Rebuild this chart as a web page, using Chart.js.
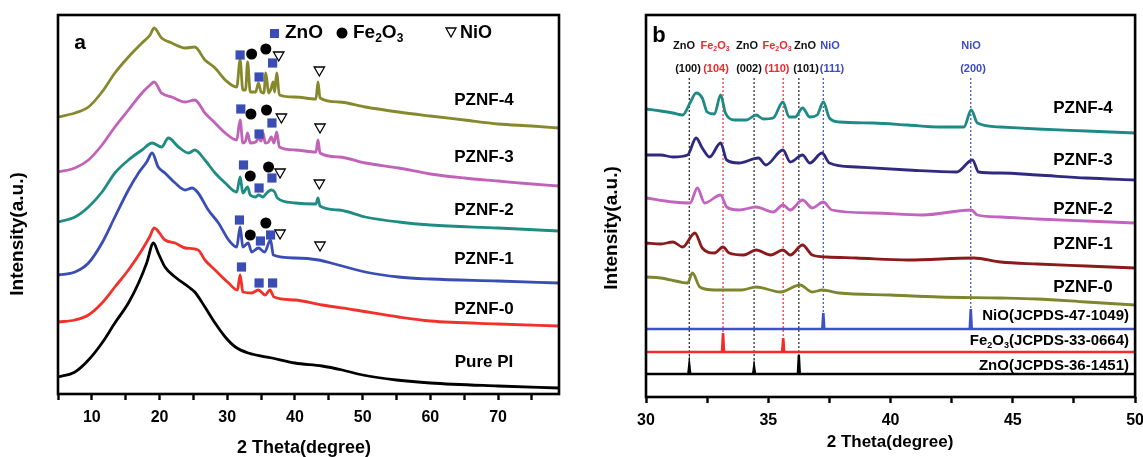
<!DOCTYPE html>
<html>
<head>
<meta charset="utf-8">
<script src="https://cdn.jsdelivr.net/npm/chart.js@4.4.0/dist/chart.umd.min.js"></script>
<style>
  html, body { margin: 0; padding: 0; background: #fff; overflow: hidden; }
  #wrap { position: relative; width: 1143px; height: 457px; overflow: hidden; }
  #boxA { position: absolute; left: 0; top: 0; width: 580px; height: 457px; }
  #boxB { position: absolute; left: 580px; top: 0; width: 572px; height: 457px; }
</style>
</head>
<body>
<div id="wrap">
  <div id="boxA"><canvas id="chartA"></canvas></div>
  <div id="boxB"><canvas id="chartB"></canvas></div>
</div>
<script>
const FONT = '"Liberation Sans", Arial, Helvetica, sans-serif';

// ---------- panel a : [2 theta, intensity (a.u.)] ----------
const pznf4A = [[5,277],[7.5,281],[9.5,287],[11.5,302],[13.4,321],[15.4,337],[17.4,351],[18.6,359],[19.2,366],[20.3,356],[21.8,351],[23.8,346],[25.2,347],[26.7,334],[28.2,326],[29.7,314],[31.4,307],[31.9,334],[32.3,304],[32.7,304],[33.0,332],[33.4,302],[34.2,302],[34.6,311],[35.0,302],[35.4,301],[35.7,321],[36.1,301],[36.4,304],[36.8,312],[37.0,302],[37.3,321],[37.7,299],[40,297],[43.1,295],[43.4,312],[43.7,296],[46.5,292],[50.4,287],[55.3,282],[60,278],[65,274],[70,270],[75,268],[79,266]];
const pznf3A = [[5,222],[7.5,226],[9.5,234],[11.5,249],[13.4,267],[15.4,284],[17.4,301],[18.6,309],[19.2,312],[20.3,301],[21.8,297],[23.8,292],[25.2,294],[26.7,281],[28.2,271],[29.7,261],[31.4,254],[31.9,274],[32.3,251],[32.7,253],[33.0,261],[33.4,251],[34.2,252],[34.6,256],[35.0,253],[35.3,261],[35.6,251],[36.1,252],[36.5,257],[36.9,251],[37.3,262],[37.7,247],[40,244],[43.1,242],[43.4,254],[43.7,241],[46.5,237],[50.4,231],[55.3,226],[60,220],[65,216],[70,213],[75,210],[79,208]];
const pznf2A = [[5,172],[7.5,177],[9.5,187],[11.5,202],[13.4,221],[15.4,234],[17.4,244],[18.9,251],[20.3,247],[21.3,256],[22.8,247],[24.3,241],[25.2,244],[26.7,234],[28.2,221],[29.7,211],[31.4,202],[31.9,217],[32.3,201],[33.0,207],[33.4,199],[34.2,197],[34.6,199],[35.3,197],[35.7,200],[36.5,204],[37.0,202],[37.4,196],[40,191],[43.1,190],[43.4,196],[43.7,188],[46.5,184],[50.4,177],[55.3,172],[60,169],[70,166],[79,163]];
const pznf1A = [[5,119],[7.5,122],[9.5,131],[11.5,151],[13.4,177],[15.4,204],[16.9,221],[18.1,232],[18.9,241],[19.8,227],[20.8,221],[22.3,211],[23.8,204],[24.8,206],[25.7,201],[27.2,184],[28.7,171],[30.2,154],[31.4,147],[31.9,167],[32.3,147],[33.1,151],[33.6,142],[34.6,146],[35.5,142],[36.4,154],[36.8,139],[40,136],[43.5,134],[46.4,129],[50.4,122],[55.3,117],[60,115],[70,113],[79,111]];
const pznf0A = [[5,72],[7.5,74],[9.5,79],[11.5,91],[13.4,107],[15.4,124],[17.4,144],[18.6,158],[19.2,166],[20.8,154],[22.3,151],[23.8,146],[25.7,144],[26.7,134],[28.2,124],[30.2,111],[31.5,104],[31.9,119],[32.3,102],[33.6,101],[34.6,104],[35.6,99],[36.3,104],[36.9,97],[40,94],[44,89],[48.9,84],[55.3,77],[60,73],[70,70],[79,68]];
const purePI = [[5,17],[7.5,22],[9.5,34],[11.5,51],[13.4,71],[15.4,91],[16.9,111],[18.1,131],[19.1,151],[19.8,141],[20.8,127],[22.3,117],[24.3,107],[25.2,102],[26.7,87],[28.2,71],[29.7,57],[31.2,47],[33.1,41],[36.6,36],[40,31],[44,28],[47,24],[50,19],[55,14],[60,11],[70,8],[79,6]];

// phase markers in panel a
const znoMarks = [[31.9,339],[36.7,331],[34.7,317],[32.0,285],[36.6,271],[34.7,260],[32.4,229],[36.6,216],[34.7,206],[31.8,174],[36.4,159],[34.9,153],[32.1,127],[34.7,111],[36.7,111]];
const feMarks = [[33.6,340],[35.7,345],[33.5,280],[35.8,284],[33.4,218],[36.1,227],[33.4,159],[35.7,171]];
const nioMarks = [[37.6,339],[43.6,324],[38.0,277],[43.7,267],[37.8,222],[43.6,211],[37.8,161],[43.7,149]];

const ticksA = [5,10,15,20,25,30,35,40,45,50,55,60,65,70,75];

// ---------- panel b ----------
const pznf4B = [[30,288],[30.6,286],[31.1,284],[31.5,282],[31.8,294],[32.05,304],[32.3,299],[32.5,285],[32.8,283],[33.05,302],[33.25,284],[33.6,277],[34.1,277],[34.5,282],[34.8,278],[35.2,279],[35.6,295],[35.85,280],[36.1,280],[36.4,289],[36.7,280],[37.0,282],[37.25,295],[37.5,279],[37.9,275],[39.3,274],[40.7,272],[42.0,270],[43.0,270],[43.3,287],[43.55,274],[44.5,270],[46,268],[48,266],[50,264]];
const pznf3B = [[30,242],[30.6,242],[31.1,240],[31.7,242],[32.05,259],[32.3,249],[32.6,240],[33.05,254],[33.3,237],[33.8,234],[34.6,239],[34.9,232],[35.6,247],[35.9,235],[36.4,242],[36.7,234],[37.2,244],[37.5,234],[38.6,230],[40.7,227],[42.7,225],[43.35,237],[43.6,225],[44.5,224],[46,222],[48,219],[50,217]];
const pznf2B = [[30,199],[31.1,195],[31.8,194],[32.1,209],[32.4,194],[33.05,202],[33.3,190],[33.8,187],[34.5,190],[35.2,185],[35.6,192],[35.9,187],[36.4,197],[36.8,189],[37.25,195],[37.6,187],[39.3,184],[41.3,182],[43.3,187],[43.55,182],[44.5,180],[46,178],[48,176],[50,174]];
const pznf1B = [[30,154],[30.6,153],[31.1,155],[31.5,150],[32.0,164],[32.3,149],[32.8,144],[33.15,150],[33.4,144],[34.0,142],[34.5,147],[35.1,142],[35.6,147],[35.9,142],[36.4,152],[36.8,142],[37.4,140],[38.6,139],[40.7,137],[43.4,139],[44.5,135],[46,133],[48,131],[50,129]];
const pznf0B = [[30,120],[30.6,119],[31.4,115],[31.7,114],[31.9,124],[32.2,110],[32.8,107],[33.9,107],[34.5,110],[35.5,105],[36.3,112],[36.8,105],[37.2,107],[37.9,104],[40,102],[42,100],[44.5,99],[46,98],[48,95],[50,92]];

// JCPDS reference lines: positions, stick tops, baseline
const znoPos = [31.77, 34.42, 36.25], znoTop = [32, 30, 42], znoBase = 23;
const fePos = [33.15, 35.61], feTop = [64, 59], feBase = 45;
const nioPos = [37.25, 43.28], nioTop = [84, 88], nioBase = 68;
const guideTop = 319;

const ticksB = [30,32.5,35,37.5,40,42.5,45,47.5,50];

// ---------- helpers ----------
const pts = arr => arr.map(([x, y]) => ({ x, y }));

function curve(arr, color, w) {
  return { data: pts(arr), showLine: true, borderColor: color, borderWidth: w, pointRadius: 0,
    cubicInterpolationMode: 'monotone', order: 1 };
}
function marks(arr, style, fill, stroke, r) {
  return { data: pts(arr), showLine: false, pointStyle: style, rotation: style === 'triangle' ? 180 : 0,
    pointRadius: r, pointBackgroundColor: fill, pointBorderColor: stroke, pointBorderWidth: stroke ? 1.3 : 0, order: 0 };
}
function stickPattern(pos, tops, base) {
  const d = [{ x: 30, y: base }];
  pos.forEach((p, i) => {
    d.push({ x: p - 0.04, y: base }, { x: p, y: tops[i] }, { x: p + 0.04, y: base });
  });
  d.push({ x: 50, y: base });
  return d;
}
function guides(pos, tops, color) {
  return pos.map((p, i) => ({
    data: [{ x: p, y: guideTop }, { x: p, y: tops[i] }], showLine: true, borderColor: color,
    borderWidth: 1.2, borderDash: [2, 2], pointRadius: 0, order: 5
  }));
}

function richText(ctx, parts, x, y, size, align, color) {
  const big = `bold ${size}px ${FONT}`, small = `bold ${Math.round(size * 0.62)}px ${FONT}`;
  let w = 0;
  parts.forEach(([t, sub]) => { ctx.font = sub ? small : big; w += ctx.measureText(t).width; });
  let cx = align === 'right' ? x - w : align === 'center' ? x - w / 2 : x;
  ctx.textAlign = 'left';
  ctx.textBaseline = 'middle';
  ctx.fillStyle = color;
  parts.forEach(([t, sub]) => {
    ctx.font = sub ? small : big;
    ctx.fillText(t, cx, sub ? y + size * 0.32 : y);
    cx += ctx.measureText(t).width;
  });
}
const FE2O3 = [['Fe', 0], ['2', 1], ['O', 0], ['3', 1]];

function text(ctx, t, x, y, size, color, align) {
  ctx.font = `bold ${size}px ${FONT}`;
  ctx.fillStyle = color || '#000';
  ctx.textAlign = align || 'center';
  ctx.textBaseline = 'middle';
  ctx.fillText(t, x, y);
}
function yTitle(ctx, x, y, size) {
  ctx.save();
  ctx.translate(x, y);
  ctx.rotate(-Math.PI / 2);
  text(ctx, 'Intensity(a.u.)', 0, 0, size);
  ctx.restore();
}
function frame(ctx, a) {
  ctx.save();
  ctx.strokeStyle = '#000';
  ctx.lineWidth = 2.6;
  ctx.strokeRect(a.left, a.top, a.right - a.left, a.bottom - a.top);
  ctx.restore();
}

function xScale(min, max, ticks, height, every) {
  return {
    type: 'linear', min, max,
    afterBuildTicks: s => { s.ticks = ticks.map(v => ({ value: v })); },
    afterFit: s => { s.height = height; },
    grid: { drawOnChartArea: false, drawTicks: true, tickLength: 6, tickWidth: 2.4, tickColor: '#000' },
    border: { display: false },
    ticks: {
      autoSkip: false, maxRotation: 0, color: '#000', padding: 8,
      font: { family: FONT, size: 16, weight: 'bold' },
      callback: v => (v % every === 0 ? v : '')
    }
  };
}

// ---------- panel a ----------
const panelA = {
  id: 'panelA',
  afterDatasetsDraw(chart) {
    const ctx = chart.ctx;
    frame(ctx, chart.chartArea);
    text(ctx, 'a', 80, 43, 21);
    // legend
    ctx.fillStyle = '#3a4db5';
    ctx.fillRect(270, 29, 9, 9);
    text(ctx, 'ZnO', 285, 33, 19, '#000', 'left');
    ctx.fillStyle = '#000';
    ctx.beginPath(); ctx.arc(342, 33, 5.5, 0, Math.PI * 2); ctx.fill();
    richText(ctx, FE2O3, 353, 33, 19, 'left', '#000');
    ctx.beginPath();
    ctx.moveTo(446, 28); ctx.lineTo(456, 28); ctx.lineTo(451, 37); ctx.closePath();
    ctx.lineWidth = 1.3; ctx.strokeStyle = '#000'; ctx.stroke();
    text(ctx, 'NiO', 460, 33, 18, '#000', 'left');
    // sample names
    [['PZNF-4', 100], ['PZNF-3', 157], ['PZNF-2', 210], ['PZNF-1', 259], ['PZNF-0', 309], ['Pure PI', 362]]
      .forEach(([t, y]) => text(ctx, t, 484, y, 17));
    text(ctx, '2 Theta(degree)', 304, 448, 18);
    yTitle(ctx, 18, 234, 19);
  }
};

new Chart(document.getElementById('chartA'), {
  type: 'scatter',
  data: {
    datasets: [
      marks(znoMarks, 'rect', '#3a4db5', null, 6.5),
      marks(feMarks, 'circle', '#000', null, 5.5),
      marks(nioMarks, 'triangle', '#fff', '#000', 6),
      curve(pznf4A, '#85892c', 2.8),
      curve(pznf3A, '#c062b7', 2.8),
      curve(pznf2A, '#1f8c84', 2.8),
      curve(pznf1A, '#3a4db5', 2.8),
      curve(pznf0A, '#f2322a', 2.8),
      curve(purePI, '#000000', 2.8)
    ]
  },
  options: {
    responsive: true, maintainAspectRatio: false, animation: false,
    layout: { padding: { left: 58, right: 21, top: 15, bottom: 0 } },
    plugins: { legend: { display: false }, tooltip: { enabled: false } },
    events: [],
    scales: {
      x: xScale(5, 79, ticksA, 63, 10),
      y: { display: false, min: 0, max: 379 }
    }
  },
  plugins: [panelA]
});

// ---------- panel b ----------
const panelB = {
  id: 'panelB',
  afterDatasetsDraw(chart) {
    const ctx = chart.ctx;
    frame(ctx, chart.chartArea);
    text(ctx, 'b', 79, 36, 22);
    const K = '#111', R = '#f0282d', B = '#3d4bc7';
    // peak assignments (canvas x = page x - 580)
    text(ctx, 'ZnO', 104, 46, 11, K);
    richText(ctx, FE2O3, 135, 46, 11, 'center', R);
    text(ctx, 'ZnO', 167, 46, 11, K);
    richText(ctx, FE2O3, 197, 46, 11, 'center', R);
    text(ctx, 'ZnO', 225, 46, 11, K);
    text(ctx, 'NiO', 250, 46, 11, B);
    text(ctx, 'NiO', 391, 46, 11, B);
    text(ctx, '(100)', 108, 69, 11, K);
    text(ctx, '(104)', 136, 69, 11, R);
    text(ctx, '(002)', 169, 69, 11, K);
    text(ctx, '(110)', 197, 69, 11, R);
    text(ctx, '(101)', 226, 69, 11, K);
    text(ctx, '(111)', 252, 69, 11, B);
    text(ctx, '(200)', 393, 69, 11, B);
    // sample names
    [['PZNF-4', 108], ['PZNF-3', 160], ['PZNF-2', 209], ['PZNF-1', 244], ['PZNF-0', 287]]
      .forEach(([t, y]) => text(ctx, t, 503, y, 17));
    text(ctx, 'NiO(JCPDS-47-1049)', 549, 316, 15, '#000', 'right');
    richText(ctx, FE2O3.concat([['(JCPDS-33-0664)', 0]]), 549, 341, 15, 'right', '#000');
    text(ctx, 'ZnO(JCPDS-36-1451)', 549, 366, 15, '#000', 'right');
    text(ctx, '2 Theta(degree)', 310, 442, 17);
    yTitle(ctx, 32, 228, 19);
  }
};

new Chart(document.getElementById('chartB'), {
  type: 'scatter',
  data: {
    datasets: [
      curve(pznf4B, '#1d8a86', 2.8),
      curve(pznf3B, '#2f2a7e', 2.8),
      curve(pznf2B, '#c064bf', 2.8),
      curve(pznf1B, '#8b1a1c', 2.8),
      curve(pznf0B, '#7d862c', 2.8),
      { data: stickPattern(nioPos, nioTop, nioBase), showLine: true, borderColor: '#3f51c6', borderWidth: 2.6, pointRadius: 0, order: 2 },
      { data: stickPattern(fePos, feTop, feBase), showLine: true, borderColor: '#f52a2a', borderWidth: 2.6, pointRadius: 0, order: 2 },
      { data: stickPattern(znoPos, znoTop, znoBase), showLine: true, borderColor: '#000', borderWidth: 2.4, pointRadius: 0, order: 2 },
      ...guides(znoPos, znoTop, '#222'),
      ...guides(fePos, feTop, '#f0282d'),
      ...guides(nioPos, nioTop, '#3d4bc7')
    ]
  },
  options: {
    responsive: true, maintainAspectRatio: false, animation: false,
    layout: { padding: { left: 66, right: 0, top: 15, bottom: 0 } },
    plugins: { legend: { display: false }, tooltip: { enabled: false } },
    events: [],
    scales: {
      x: xScale(30, 50, ticksB, 60, 5),
      y: { display: false, min: 0, max: 382 }
    }
  },
  plugins: [panelB]
});
</script>
</body>
</html>
